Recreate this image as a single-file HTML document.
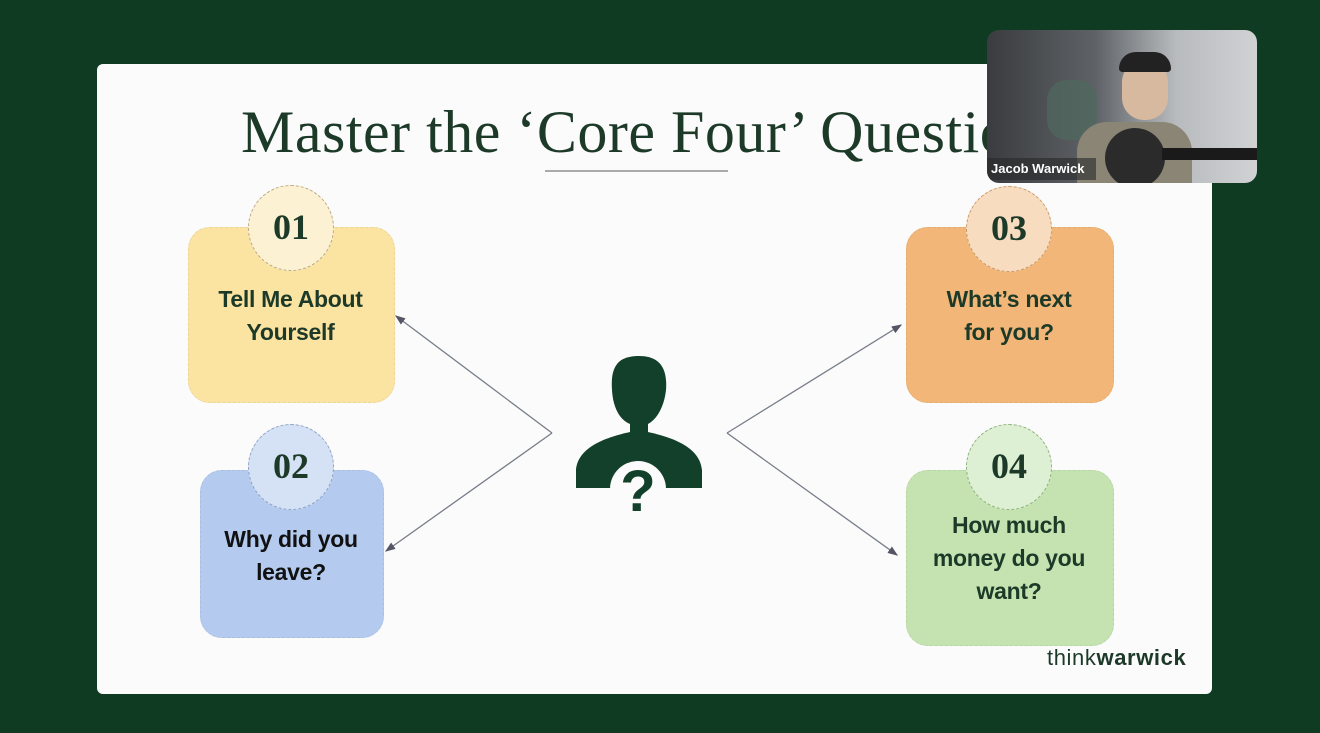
<!DOCTYPE html>
<html><head><meta charset="utf-8"><style>
html,body{margin:0;padding:0;}
body{width:1320px;height:733px;background:#0e3b22;position:relative;overflow:hidden;font-family:"Liberation Sans",sans-serif;}
.slide{position:absolute;left:97px;top:64px;width:1115px;height:630px;background:#fbfbfb;border-radius:6px;}
.title{position:absolute;left:241px;top:98px;font-family:"Liberation Serif",serif;font-size:60px;color:#1d3a29;white-space:nowrap;letter-spacing:0.5px;}
.ul{position:absolute;left:545px;top:170px;width:183px;height:2px;background:#aaa;}
.box{position:absolute;border-radius:22px;border:1px dashed rgba(0,0,0,0.06);}
.circ{position:absolute;width:86px;height:86px;border-radius:50%;border:1.5px dashed #b8aa88;box-sizing:border-box;text-align:center;line-height:82px;font-family:"Liberation Serif",serif;font-weight:bold;font-size:36px;color:#1d3a29;}
.txt{position:absolute;text-align:center;font-weight:bold;font-size:23px;line-height:33px;letter-spacing:-0.3px;}
.vid{position:absolute;left:987px;top:30px;width:270px;height:153px;border-radius:12px;overflow:hidden;background:linear-gradient(90deg,#3a3c3f 0%,#5e6266 40%,#b8bbbe 70%,#d0d2d4 100%);}
</style></head><body>
<div class="slide"></div>
<div class="title">Master the ‘Core Four’ Questions</div>
<div class="ul"></div>

<div class="box" style="left:188px;top:227px;width:205px;height:174px;background:#fbe3a2;"></div>
<div class="circ" style="left:248px;top:185px;background:#fcf1d2;">01</div>
<div class="txt" style="left:188px;top:283px;width:205px;color:#1d3a29;">Tell Me About<br>Yourself</div>

<div class="box" style="left:200px;top:470px;width:182px;height:166px;background:#b4cbef;"></div>
<div class="circ" style="left:248px;top:424px;background:#d5e1f5;border-color:#8fa3c2;">02</div>
<div class="txt" style="left:200px;top:523px;width:182px;color:#111;">Why did you<br>leave?</div>

<div class="box" style="left:906px;top:227px;width:206px;height:174px;background:#f2b778;"></div>
<div class="circ" style="left:966px;top:186px;background:#f8dcc0;border-color:#c99a6a;">03</div>
<div class="txt" style="left:906px;top:283px;width:206px;color:#1d3a29;">What’s next<br>for you?</div>

<div class="box" style="left:906px;top:470px;width:206px;height:174px;background:#c4e3b1;"></div>
<div class="circ" style="left:966px;top:424px;background:#def0d3;border-color:#8fb07f;">04</div>
<div class="txt" style="left:906px;top:509px;width:206px;color:#1d3a29;">How much<br>money do you<br>want?</div>

<svg style="position:absolute;left:0;top:0" width="1320" height="733">
<defs><marker id="a" markerWidth="8" markerHeight="8" refX="7" refY="4" orient="auto"><path d="M0,1 L8,4 L0,7 Z" fill="#556"/></marker></defs>
<g stroke="#777d88" stroke-width="1.3" fill="none">
<line x1="552" y1="433" x2="396" y2="316" marker-end="url(#a)"/>
<line x1="552" y1="433" x2="386" y2="551" marker-end="url(#a)"/>
<line x1="727" y1="433" x2="901" y2="325" marker-end="url(#a)"/>
<line x1="727" y1="433" x2="897" y2="555" marker-end="url(#a)"/>
</g>
<g fill="#12402a">
<path d="M612,390 C610,362 622,356 639,356 C656,356 668,364 666,390 C664,408 656,420 648,424 L648,432 C675,438 700,448 702,470 L702,488 L576,488 L576,470 C578,448 603,438 630,432 L630,424 C620,420 613,408 612,390 Z"/>
<circle cx="638" cy="489" r="28" fill="#fbfbfb"/>
<text x="638" y="511" text-anchor="middle" font-family="Liberation Sans" font-weight="bold" font-size="58" fill="#12402a">?</text>
</g>
</svg>

<div style="position:absolute;left:1047px;top:645px;font-size:22px;color:#1d3a29;letter-spacing:0.6px;">think<b>warwick</b></div>

<div class="vid">
<div style="position:absolute;left:60px;top:50px;width:50px;height:60px;border-radius:20px;background:#4f6a5e;opacity:.7"></div>
<div style="position:absolute;left:135px;top:30px;width:46px;height:60px;border-radius:22px;background:#d7b9a0;"></div>
<div style="position:absolute;left:132px;top:22px;width:52px;height:20px;border-radius:20px 20px 4px 4px;background:#222;"></div>
<div style="position:absolute;left:90px;top:92px;width:115px;height:70px;border-radius:30px 30px 0 0;background:#8b8575;"></div>
<div style="position:absolute;left:118px;top:98px;width:60px;height:60px;border-radius:50%;background:#2b2b2b;"></div>
<div style="position:absolute;left:175px;top:118px;width:95px;height:12px;background:#1a1a1a;"></div>
<div style="position:absolute;left:0;top:128px;width:105px;height:22px;background:rgba(40,40,40,.6);color:#fff;font-weight:bold;font-size:13px;line-height:22px;padding-left:4px;">Jacob Warwick</div>
</div>
</body></html>
